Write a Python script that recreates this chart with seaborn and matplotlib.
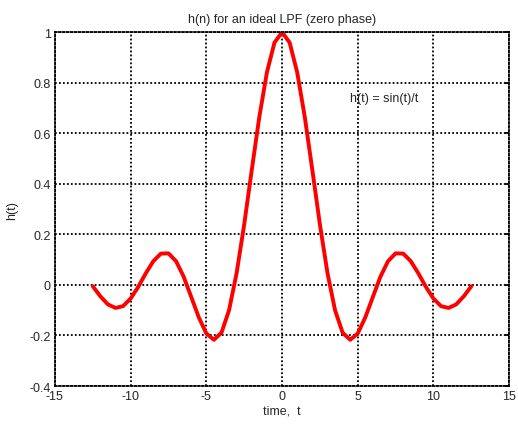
import matplotlib
matplotlib.use("Agg")
import matplotlib.pyplot as plt
import seaborn as sns
import pandas as pd

t_values = [-12.5, -12, -11.5, -11, -10.5, -10, -9.5, -9, -8.5, -8, -7.5, -7, -6.5, -6,
            -5.5, -5, -4.5, -4, -3.5, -3, -2.5, -2, -1.5, -1, -0.5, 0,
            0.5, 1, 1.5, 2, 2.5, 3, 3.5, 4, 4.5, 5, 5.5, 6, 6.5, 7, 7.5, 8,
            8.5, 9, 9.5, 10, 10.5, 11, 11.5, 12, 12.5]
h_right = [0.959, 0.841, 0.665, 0.455, 0.239, 0.047, -0.100, -0.189, -0.217, -0.192,
           -0.128, -0.047, 0.033, 0.094, 0.125, 0.124, 0.094, 0.046, -0.008, -0.054,
           -0.084, -0.091, -0.077, -0.045, -0.005]
h_values = h_right[::-1] + [1.0] + h_right

x_ticks = [-15, -10, -5, 0, 5, 10, 15]
y_ticks = [-0.4, -0.2, 0, 0.2, 0.4, 0.6, 0.8, 1]
y_tick_labels = ["-0.4", "-0.2", "0", "0.2", "0.4", "0.6", "0.8", "1"]

sns.set_style("white")
plt.rcParams['font.family'] = ['Liberation Sans', 'DejaVu Sans']

df = pd.DataFrame({"t": t_values, "h": h_values})

fig = plt.figure(figsize=(5.18, 4.31), dpi=100)
ax = fig.add_axes([0.106, 0.102, 0.877, 0.821])
sns.lineplot(data=df, x="t", y="h", ax=ax, color="#ff0000", linewidth=2.8)

ax.set_xlim(-15, 15)
ax.set_ylim(-0.4, 1)
ax.set_xticks(x_ticks)
ax.set_xticklabels([str(v) for v in x_ticks])
ax.set_yticks(y_ticks)
ax.set_yticklabels(y_tick_labels)
ax.grid(True, color="black", linestyle=(0, (1, 1.2)), linewidth=1.3)
for s in ax.spines.values():
    s.set_color("black")
    s.set_linewidth(1.3)
    s.set_linestyle((0, (1, 1.2)))
ax.tick_params(direction="in", length=3, width=1.3, color="black", labelsize=9,
               pad=3, top=False, right=True)
ax.set_xlabel("time,  t", fontsize=9, labelpad=2)
ax.set_ylabel("h(t)", fontsize=9, labelpad=8)
ax.set_title("h(n) for an ideal LPF (zero phase)", fontsize=9, pad=7)
ax.text(4.5, 0.74, "h(t) = sin(t)/t", fontsize=9, va="center", ha="left")

fig.savefig("out.png", dpi=100)
